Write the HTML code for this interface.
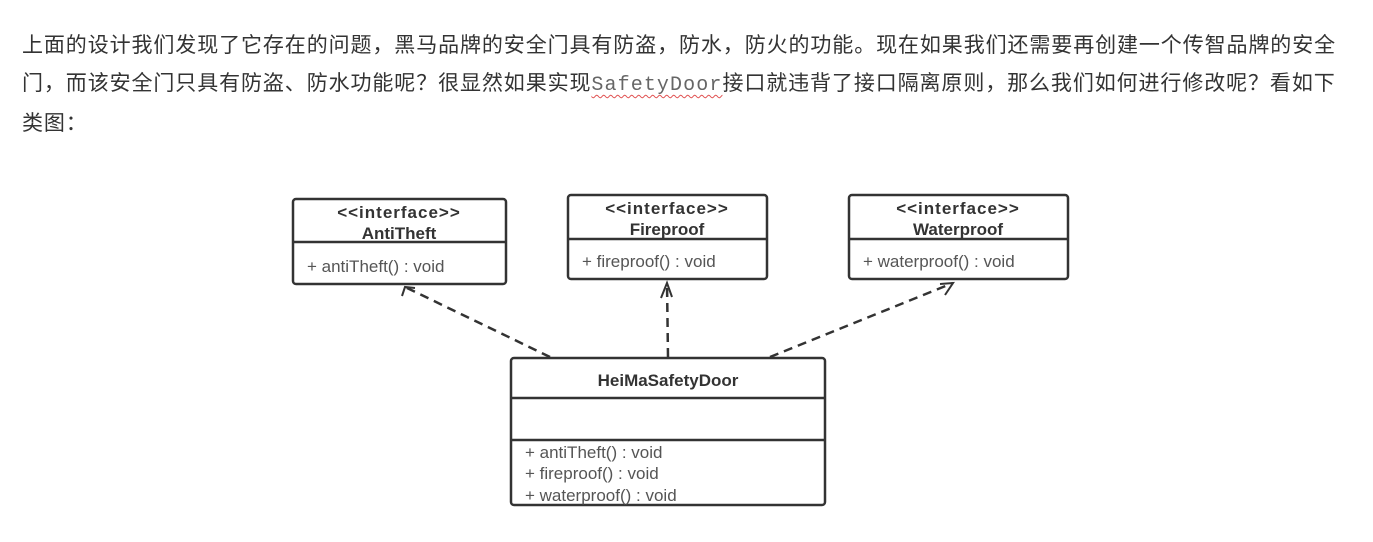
<!DOCTYPE html>
<html><head><meta charset="utf-8"><style>
html,body{margin:0;padding:0;background:#fff;width:1373px;height:542px;overflow:hidden}
.t{position:absolute;left:22px;font-family:"Liberation Sans","Noto Sans CJK SC",sans-serif;font-size:21px;letter-spacing:0.9px;color:#333;white-space:nowrap;line-height:24px}
.m{font-family:"Liberation Mono",monospace;font-size:20px;letter-spacing:1.1px;color:#666;text-decoration:underline wavy #e05050;text-decoration-thickness:1px;text-underline-offset:4px}
svg{position:absolute;left:0;top:0}
</style></head><body>
<div class="t" style="top:34px">上面的设计我们发现了它存在的问题，黑马品牌的安全门具有防盗，防水，防火的功能。现在如果我们还需要再创建一个传智品牌的安全</div>
<div class="t" style="top:72px">门，而该安全门只具有防盗、防水功能呢？很显然如果实现<span class="m">SafetyDoor</span>接口就违背了接口隔离原则，那么我们如何进行修改呢？看如下</div>
<div class="t" style="top:112px">类图：</div>
<svg width="1373" height="542" font-family="Liberation Sans, sans-serif" fill="none">
<g stroke="#333" stroke-width="2.5">
<rect x="293" y="199" width="213" height="85" rx="3" fill="#fff"/>
<line x1="293" y1="242" x2="506" y2="242"/>
<rect x="568" y="195" width="199" height="84" rx="3" fill="#fff"/>
<line x1="568" y1="239" x2="767" y2="239"/>
<rect x="849" y="195" width="219" height="84" rx="3" fill="#fff"/>
<line x1="849" y1="239" x2="1068" y2="239"/>
<rect x="511" y="358" width="314" height="147" rx="3" fill="#fff"/>
<line x1="511" y1="398" x2="825" y2="398"/>
<line x1="511" y1="440" x2="825" y2="440"/>
</g>
<g stroke="#333" stroke-width="2.5" stroke-dasharray="9,6">
<line x1="550" y1="357" x2="405" y2="287"/>
<line x1="668" y1="357" x2="667" y2="283"/>
<line x1="770" y1="357" x2="953" y2="283"/>
</g>
<g stroke="#333" stroke-width="2">
<polyline points="402,296 405,287 415,288"/>
<polyline points="661,298 667,283 672,297"/>
<polyline points="940,284 953,283 945,295"/>
</g>
<g fill="#333" font-size="17" text-anchor="middle" font-weight="bold">
<text x="399" y="218" letter-spacing="1">&lt;&lt;interface&gt;&gt;</text>
<text x="399" y="239">AntiTheft</text>
<text x="667" y="214" letter-spacing="1">&lt;&lt;interface&gt;&gt;</text>
<text x="667" y="235">Fireproof</text>
<text x="958" y="214" letter-spacing="1">&lt;&lt;interface&gt;&gt;</text>
<text x="958" y="235">Waterproof</text>
<text x="668" y="386">HeiMaSafetyDoor</text>
</g>
<g fill="#555" font-size="17">
<text x="307" y="272">+ antiTheft() : void</text>
<text x="582" y="267">+ fireproof() : void</text>
<text x="863" y="267">+ waterproof() : void</text>
<text x="525" y="458">+ antiTheft() : void</text>
<text x="525" y="479">+ fireproof() : void</text>
<text x="525" y="501">+ waterproof() : void</text>
</g>
</svg>
</body></html>
